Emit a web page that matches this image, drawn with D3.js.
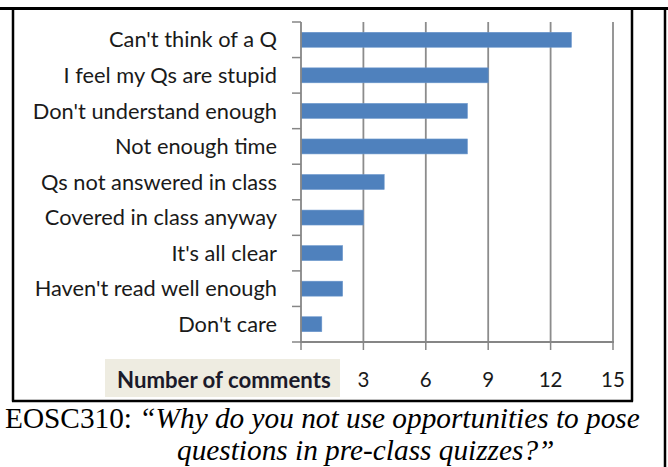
<!DOCTYPE html>
<html><head><meta charset="utf-8">
<script src="https://cdn.jsdelivr.net/npm/d3@7"></script>
<style>
html,body{margin:0;padding:0;background:#fff;}
svg{display:block;}
</style></head>
<body>
<script>
const categories = ["Can't think of a Q","I feel my Qs are stupid","Don't understand enough","Not enough time","Qs not answered in class","Covered in class anyway","It's all clear","Haven't read well enough","Don't care"];
const values = [13, 9, 8, 8, 4, 3, 2, 2, 1];
const tickValues = [0, 3, 6, 9, 12, 15];
const axisTitle = "Number of comments";
const captionPrefix = "EOSC310: ";
const captionLine1 = "\u201CWhy do you not use opportunities to pose";
const captionLine2 = "questions in pre-class quizzes?\u201D";

const W = 668, H = 467;
const svg = d3.select("body").append("svg").attr("width", W).attr("height", H);

// frames
svg.append("line").attr("x1",0).attr("x2",W).attr("y1",8.5).attr("y2",8.5).attr("stroke","#000").attr("stroke-width",3);
svg.append("line").attr("x1",13).attr("x2",13).attr("y1",8).attr("y2",401.5).attr("stroke","#000").attr("stroke-width",2.5);
svg.append("line").attr("x1",632).attr("x2",632).attr("y1",8).attr("y2",401.5).attr("stroke","#000").attr("stroke-width",2.5);
svg.append("line").attr("x1",12).attr("x2",633).attr("y1",401).attr("y2",401).attr("stroke","#000").attr("stroke-width",2.5);
svg.append("line").attr("x1",665).attr("x2",665).attr("y1",8).attr("y2",H).attr("stroke","#000").attr("stroke-width",2.5);

const x = d3.scaleLinear().domain([0, 15]).range([301, 613]);
const y = d3.scaleBand().domain(categories).range([22, 342]).paddingInner(0.58).paddingOuter(0.29);
const yb = d3.scaleBand().domain(categories).range([22, 342]);

// gridlines
svg.append("g").selectAll("line").data(tickValues.filter(d => d > 0)).join("line")
  .attr("x1", d => x(d)).attr("x2", d => x(d)).attr("y1", 22).attr("y2", 342)
  .attr("stroke", "#8c8c8c").attr("stroke-width", 1.8);

// bars
svg.append("g").selectAll("rect").data(values).join("rect")
  .attr("x", x(0)).attr("y", (d,i) => y(categories[i]))
  .attr("width", d => x(d) - x(0)).attr("height", y.bandwidth())
  .attr("fill", "#4F81BD").attr("stroke", "#6a96cc").attr("stroke-width", 0.6);

// y axis line and ticks
svg.append("line").attr("x1",x(0)).attr("x2",x(0)).attr("y1",22).attr("y2",342).attr("stroke","#868686").attr("stroke-width",1.8);
const yTicks = categories.map(c => yb(c)).concat([342]);
svg.append("g").selectAll("line").data(yTicks).join("line")
  .attr("x1", 292).attr("x2", x(0)).attr("y1", d => d).attr("y2", d => d)
  .attr("stroke", "#868686").attr("stroke-width", 1.5);

// x axis line and ticks
svg.append("line").attr("x1",x(0)-1).attr("x2",x(15)+1).attr("y1",342).attr("y2",342).attr("stroke","#868686").attr("stroke-width",1.8);
svg.append("g").selectAll("line").data(tickValues).join("line")
  .attr("x1", d => x(d)).attr("x2", d => x(d)).attr("y1", 342).attr("y2", 350)
  .attr("stroke", "#868686").attr("stroke-width", 1.5);

// category labels
svg.append("g").selectAll("text").data(categories).join("text")
  .attr("x", 277).attr("y", d => yb(d) + yb.bandwidth()/2)
  .attr("dy", "0.35em").attr("text-anchor", "end")
  .attr("font-family", "Lato, 'Open Sans', sans-serif").attr("font-size", 21.8)
  .attr("fill", "#1a1a1a").text(d => d);

// tick labels
svg.append("g").selectAll("text").data(tickValues.filter(d => d > 0)).join("text")
  .attr("x", d => x(d)).attr("y", 380).attr("dy","0.35em").attr("text-anchor","middle")
  .attr("font-family", "Lato, 'Open Sans', sans-serif").attr("font-size", 20.5)
  .attr("fill", "#1a1a1a").text(d => d);

// axis title box
svg.append("rect").attr("x",105).attr("y",359).attr("width",235).attr("height",38).attr("fill","#EEECE1");
svg.append("text").attr("x",117).attr("y",380).attr("dy","0.35em")
  .attr("font-family","Lato, 'Open Sans', sans-serif").attr("font-size",22.2).attr("font-weight","bold")
  .attr("fill","#1a1a2a").text(axisTitle);

// caption
const cap1 = svg.append("text").attr("x",5).attr("y",428)
  .attr("font-family","'Liberation Serif', 'DejaVu Serif', serif").attr("font-size",29.3).attr("fill","#000");
cap1.append("tspan").text(captionPrefix);
cap1.append("tspan").attr("font-style","italic").text(captionLine1);
svg.append("text").attr("x",177).attr("y",460)
  .attr("font-family","'Liberation Serif', 'DejaVu Serif', serif").attr("font-size",29.3).attr("font-style","italic")
  .attr("fill","#000").text(captionLine2);
</script>
</body></html>
